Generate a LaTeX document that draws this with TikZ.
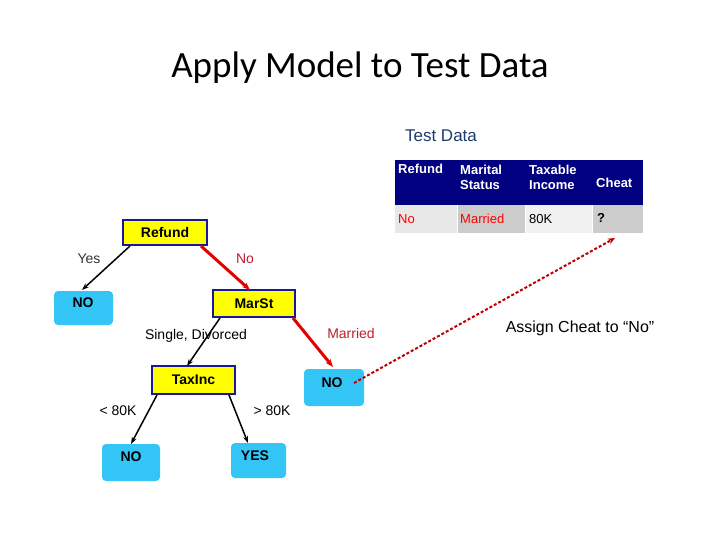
\documentclass[tikz,border=0pt]{standalone}
\usepackage{fontspec}
\setmainfont{Liberation Sans}
\newfontfamily\titlefont{Carlito}
\usetikzlibrary{arrows.meta}
\definecolor{boxy}{RGB}{255,255,0}
\definecolor{boxb}{RGB}{25,25,150}
\definecolor{leaf}{RGB}{51,197,245}
\definecolor{hdr}{RGB}{0,0,128}
\definecolor{redt}{RGB}{190,30,45}
\definecolor{tdc}{RGB}{30,60,110}
\begin{document}
\begin{tikzpicture}[x=1pt,y=-1pt,
 attr/.style={draw=boxb,line width=1.5pt,fill=boxy,font=\bfseries\fontsize{14}{16}\selectfont,inner sep=0pt},
 lf/.style={fill=leaf,rounded corners=4pt,inner sep=0pt},
 lt/.style={font=\bfseries\fontsize{14}{16}\selectfont},
 lbl/.style={font=\fontsize{14}{16}\selectfont},
 blk/.style={-{Stealth[length=7pt,width=5pt]},line width=1.5pt},
 rd/.style={-{Stealth[length=8pt,width=6pt]},line width=3pt,red!90!black},
 hc/.style={inner sep=0pt,anchor=west,text=white,align=left,font=\bfseries\fontsize{13}{15}\selectfont},
 cell/.style={inner sep=0pt,font=\fontsize{13}{15}\selectfont,anchor=west}]
\useasboundingbox (0,0) rectangle (720,540);
\node[font=\titlefont\fontsize{37}{44}\selectfont] (title) at (360,68) {Apply Model to Test Data};
\node[font=\fontsize{17}{20}\selectfont,text=tdc] (td) at (441,136) {Test Data};
% table
\fill[hdr] (395,160) rectangle (643,205);
\fill[gray!18] (395,205) rectangle (457,233);
\fill[gray!40] (457,205) rectangle (525,233);
\fill[gray!12] (525,205) rectangle (592,233);
\fill[gray!40] (592,205) rectangle (643,233);
\draw[white,line width=0.8pt] (457,205)--(457,233) (525,205)--(525,233) (592,205)--(592,233);
\node[hc] (h1) at (398,169) {Refund};
\node[hc] (h2) at (460,177) {Marital\\Status};
\node[hc] (h3) at (529,177) {Taxable\\Income};
\node[hc] (h4) at (596,183) {Cheat};
\node[cell,text=red] (c1) at (398,219) {No};
\node[cell,text=red] (c2) at (460,219) {Married};
\node[cell] (c3) at (529,219) {80K};
\node[cell,font=\bfseries\fontsize{13}{15}\selectfont] (c4) at (597,218) {?};
\coordinate (qa) at (615,238);
% tree
\node[attr,minimum width=84pt,minimum height=25pt] (refund) at (165,232.5) {Refund};
\node[lf,minimum width=59pt,minimum height=34pt] (no1) at (83.5,308) {};
\node[lt] at (83,303) {NO};
\node[attr,minimum width=82pt,minimum height=27pt] (marst) at (254,303.5) {MarSt};
\node[attr,minimum width=83pt,minimum height=28pt] (taxinc) at (193.5,380) {TaxInc};
\node[lf,minimum width=60pt,minimum height=37pt] (no2) at (334,387.5) {};
\node[lt] at (332,383) {NO};
\node[lf,minimum width=58pt,minimum height=37pt] (no3) at (131,462.5) {};
\node[lt] at (131,457) {NO};
\node[lf,minimum width=55pt,minimum height=35pt] (yes) at (258.5,460.5) {};
\node[lt] at (255,456) {YES};
\draw[blk] (130,246) -- (82,290);
\draw[rd] (201,246) -- (250,290);
\draw[blk] (220,318) -- (187,366);
\draw[rd] (293,318) -- (333,367);
\draw[blk] (157,395) -- (131,444);
\draw[blk] (229,395) -- (248,443);
\node[lbl,text=black!80] at (89,259) {Yes};
\node[lbl,text=redt] at (245,259) {No};
\node[lbl] at (196,336) {Single, Divorced};
\node[lbl,text=redt] at (351,333) {Married};
\node[lbl] at (118,411) {< 80K};
\node[lbl] at (272,411) {> 80K};
\coordinate (ds) at (354,383);
\draw[densely dashed,red!75!black,line width=2pt,-{Stealth[length=7pt,width=6pt]}] (ds) -- (qa);
\node[font=\fontsize{16}{19}\selectfont] (assign) at (580,328) {Assign Cheat to “No”};
\end{tikzpicture}
\end{document}
